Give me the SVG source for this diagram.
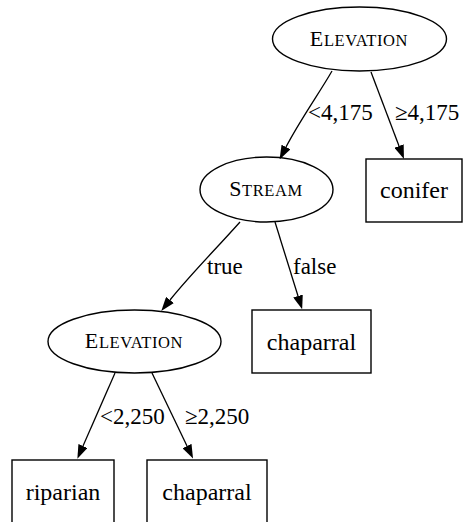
<svg xmlns="http://www.w3.org/2000/svg" width="464" height="522" viewBox="0 0 464 522" font-family="Liberation Serif">
<style>
svg g text, svg g text tspan{font-family:'Liberation Serif',serif !important}
.shape{fill:none;stroke:#000;stroke-width:1.4}
</style>
<defs>
<marker id="arr" viewBox="0 0 14 10" refX="0" refY="5" markerWidth="14" markerHeight="10" markerUnits="userSpaceOnUse" orient="auto">
<path d="M0,0 L14,5 L0,10 z" fill="#000"/>
</marker>
</defs>
<rect width="464" height="522" fill="#fff"/>
<g id="edges" fill="none" stroke="#000" stroke-width="1.3">
<path marker-end="url(#arr)" d="M332,71 C320,92 300,120 286,147"/>
<path marker-end="url(#arr)" d="M371,72 L399,146"/>
<path marker-end="url(#arr)" d="M240,222 C215,250 190,275 170,300"/>
<path marker-end="url(#arr)" d="M275,222 L298,296"/>
<path marker-end="url(#arr)" d="M115,373 L83,446"/>
<path marker-end="url(#arr)" d="M152,373 L187,446"/>
</g>
<g id="edge-labels">
<text x="308" y="120" font-size="23" font-family="Liberation Serif">&lt;4,175</text>
<text x="395" y="120" font-size="23" font-family="Liberation Serif">&#8805;4,175</text>
<text x="207" y="274" font-size="23" font-family="Liberation Serif">true</text>
<text x="293" y="274" font-size="23" font-family="Liberation Serif">false</text>
<text x="100" y="424" font-size="23" font-family="Liberation Serif">&lt;2,250</text>
<text x="185" y="424" font-size="23" font-family="Liberation Serif">&#8805;2,250</text>
</g>
<g id="elevation1">
<ellipse class="shape" cx="359.5" cy="39" rx="87" ry="32"/>
<text x="359" y="46" text-anchor="middle" letter-spacing="0.6" font-family="Liberation Serif"><tspan font-size="22">E</tspan><tspan font-size="16.5">LEVATION</tspan></text>
</g>
<g id="conifer">
<rect class="shape" x="366" y="159" width="96" height="63"/>
<text x="414" y="198" text-anchor="middle" font-size="24" font-family="Liberation Serif">conifer</text>
</g>
<g id="stream">
<ellipse class="shape" cx="266.5" cy="189.5" rx="66.5" ry="32.5"/>
<text x="266" y="196" text-anchor="middle" letter-spacing="0.6" font-family="Liberation Serif"><tspan font-size="22">S</tspan><tspan font-size="16.5">TREAM</tspan></text>
</g>
<g id="chaparral1">
<rect class="shape" x="252" y="310" width="119" height="63"/>
<text x="311.5" y="350" text-anchor="middle" font-size="24" font-family="Liberation Serif">chaparral</text>
</g>
<g id="elevation2">
<ellipse class="shape" cx="134.5" cy="341.5" rx="86.5" ry="31.5"/>
<text x="134" y="348" text-anchor="middle" letter-spacing="0.6" font-family="Liberation Serif"><tspan font-size="22">E</tspan><tspan font-size="16.5">LEVATION</tspan></text>
</g>
<g id="riparian">
<rect class="shape" x="12" y="460" width="102" height="70"/>
<text x="63" y="500" text-anchor="middle" font-size="24" font-family="Liberation Serif">riparian</text>
</g>
<g id="chaparral2">
<rect class="shape" x="147" y="460" width="120" height="70"/>
<text x="207" y="500" text-anchor="middle" font-size="24" font-family="Liberation Serif">chaparral</text>
</g>
</svg>
